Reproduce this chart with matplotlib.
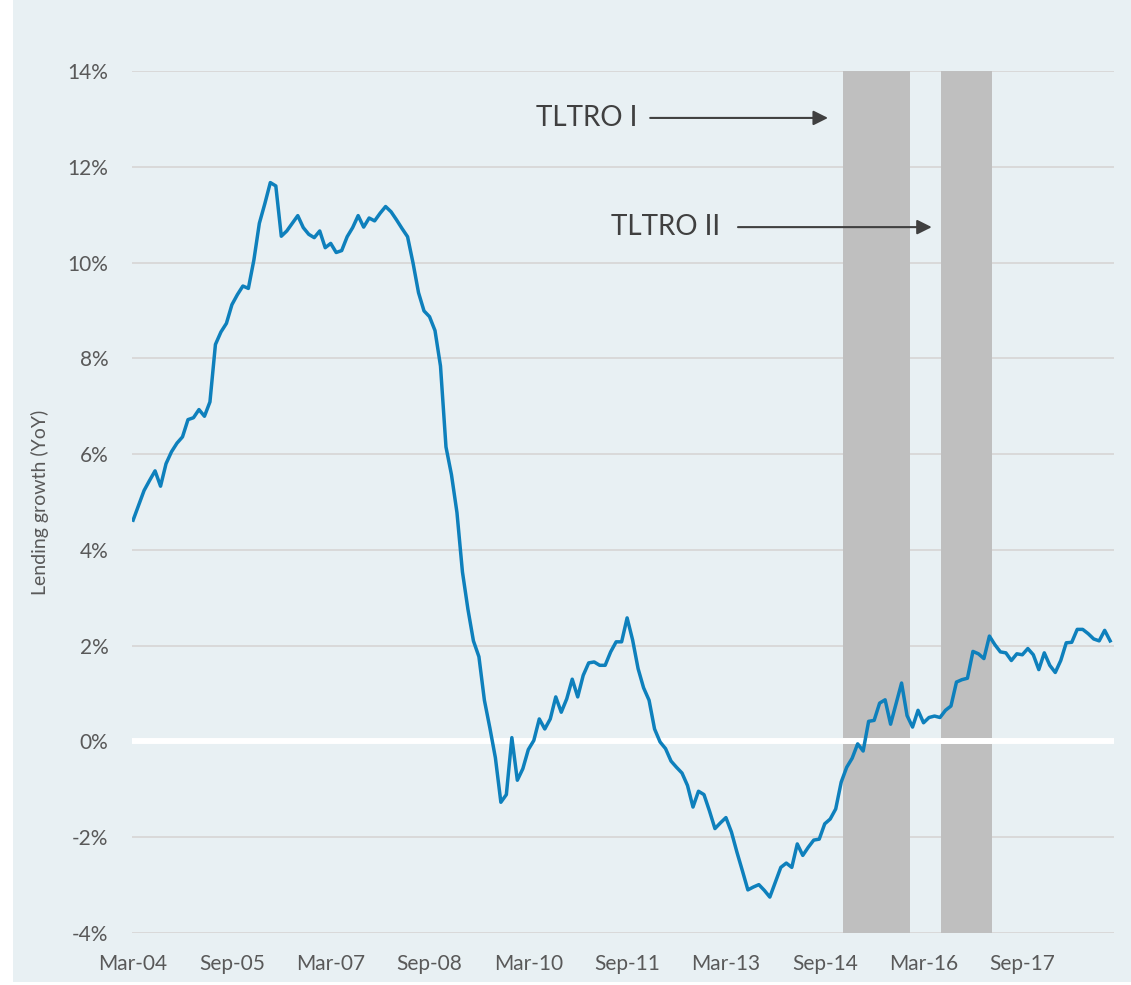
import matplotlib
matplotlib.use("Agg")
import matplotlib.pyplot as plt
import numpy as np
import pandas as pd
from matplotlib.patches import Rectangle

# crescimento do credito (YoY, %), mensal a partir de Mar-04
growth = [
    4.62, 4.93, 5.24, 5.45, 5.65, 5.33, 5.80, 6.05, 6.23, 6.36,
    6.72, 6.76, 6.93, 6.79, 7.09, 8.29, 8.55, 8.73, 9.12, 9.33,
    9.51, 9.46, 10.05, 10.82, 11.23, 11.67, 11.60, 10.55, 10.66, 10.82,
    10.98, 10.73, 10.59, 10.52, 10.66, 10.31, 10.40, 10.21, 10.25, 10.54,
    10.73, 10.98, 10.74, 10.93, 10.87, 11.03, 11.17, 11.06, 10.89, 10.71,
    10.54, 9.99, 9.37, 8.99, 8.87, 8.58, 7.84, 6.15, 5.57, 4.78,
    3.54, 2.76, 2.10, 1.77, 0.86, 0.28, -0.34, -1.27, -1.11, 0.08,
    -0.81, -0.57, -0.17, 0.02, 0.47, 0.26, 0.47, 0.93, 0.61, 0.89,
    1.30, 0.93, 1.38, 1.64, 1.66, 1.59, 1.59, 1.87, 2.08, 2.08,
    2.58, 2.12, 1.52, 1.12, 0.86, 0.26, -0.01, -0.15, -0.41, -0.54,
    -0.66, -0.92, -1.37, -1.04, -1.11, -1.45, -1.82, -1.70, -1.59, -1.89,
    -2.31, -2.70, -3.10, -3.04, -2.99, -3.11, -3.25, -2.94, -2.63, -2.54,
    -2.63, -2.14, -2.38, -2.21, -2.06, -2.04, -1.72, -1.62, -1.41, -0.85,
    -0.54, -0.35, -0.05, -0.20, 0.42, 0.44, 0.80, 0.87, 0.36, 0.79,
    1.22, 0.54, 0.30, 0.65, 0.39, 0.50, 0.53, 0.50, 0.65, 0.74,
    1.24, 1.29, 1.32, 1.88, 1.83, 1.73, 2.20, 2.02, 1.87, 1.85,
    1.69, 1.83, 1.81, 1.94, 1.81, 1.50, 1.85, 1.59, 1.44, 1.69,
    2.06, 2.07, 2.34, 2.34, 2.25, 2.14, 2.10, 2.32, 2.10,
]
start_month = "2004-03"
tick_step = 18

# janelas TLTRO (primeiro e ultimo mes sombreado)
tltro_names = ["TLTRO I", "TLTRO II"]
tltro_start = ["2015-01", "2016-07"]
tltro_end = ["2015-12", "2017-03"]

y_ticks = [-4, -2, 0, 2, 4, 6, 8, 10, 12, 14]

#-------------------------------------------------------------------------------------

datas = pd.date_range(start_month, periods=len(growth), freq="MS")
x = np.arange(len(growth))

def posicao(mes):
    return datas.get_loc(pd.Timestamp(mes))

fundo = "#E8F0F3"
cor_texto = "#595959"
plt.rcParams["font.family"] = ["Lato", "DejaVu Sans"]

fig = plt.figure(figsize=(11.31, 9.85), dpi=100, facecolor="white")
fig.patches.append(Rectangle((13 / 1131, 3 / 985), 1, 1, transform=fig.transFigure,
                             facecolor=fundo, edgecolor="none", zorder=-10))
ax = fig.add_axes([132 / 1131, 1 - 933 / 985, (1114 - 132) / 1131, (933 - 71) / 985])
ax.set_facecolor(fundo)

for v in y_ticks:
    if v == 0:
        ax.axhline(v, color="white", lw=4.3, zorder=3)
    else:
        ax.axhline(v, color="#D9D9D9", lw=1.4, zorder=1)

for ini, fim in zip(tltro_start, tltro_end):
    ax.axvspan(posicao(ini) - 0.75, posicao(fim) + 0.45, color="#BFBFBF", lw=0, zorder=2)

ax.plot(x, growth, color="#0E80BC", lw=2.5, zorder=4, solid_joinstyle="round")

ax.set_xlim(-0.2, 178.7)
ax.set_ylim(-4, 14)
ax.set_yticks(y_ticks)
ax.set_yticklabels([f"{v}%" for v in y_ticks])
ticks_x = x[::tick_step]
ax.set_xticks(ticks_x)
ax.set_xticklabels([datas[i].strftime("%b-%y") for i in ticks_x])
ax.tick_params(length=0, labelsize=15, colors=cor_texto)
ax.tick_params(axis="y", pad=17)
ax.tick_params(axis="x", pad=15)
for s in ax.spines.values():
    s.set_visible(False)

ax.set_ylabel("Lending growth (YoY)", fontsize=14, color=cor_texto, labelpad=13)

# anotacoes com setas
setas = [(13.02, 91.8, 94.2, 126.6), (10.74, 106.9, 110.2, 145.5)]
for nome, (yv, xt, xa, xb) in zip(tltro_names, setas):
    ax.text(xt, yv, nome, fontsize=20, color="#404040", ha="right", va="center", zorder=5)
    ax.annotate("", xy=(xb, yv), xytext=(xa, yv),
                arrowprops=dict(arrowstyle="-|>", color="#404040", lw=1.5,
                                mutation_scale=22, shrinkA=0, shrinkB=0), zorder=5)

plt.savefig("out.png", dpi=100, facecolor=fig.get_facecolor())
